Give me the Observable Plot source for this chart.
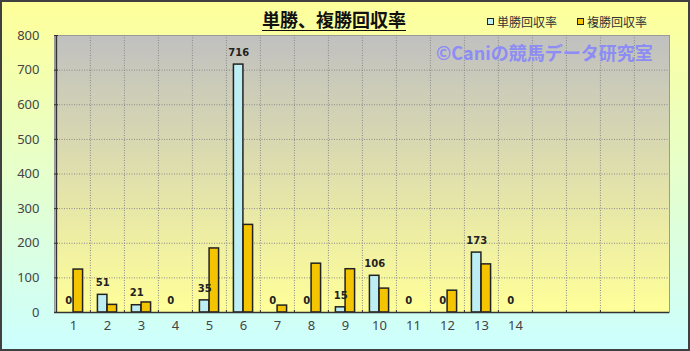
<!DOCTYPE html>
<html>
<head>
<meta charset="utf-8">
<script src="https://cdn.jsdelivr.net/npm/d3@7"></script>
<script src="https://cdn.jsdelivr.net/npm/@observablehq/plot@0.6"></script>
<style>
  html, body { margin: 0; padding: 0; background: #fff; }
  #wrap { position: relative; width: 690px; height: 351px; overflow: hidden;
          background: linear-gradient(to bottom, #ffff99 0%, #ccffff 100%);
          font-family: "Noto Sans CJK JP", "Noto Sans", sans-serif; }
  #wrap svg { position: absolute; left: 0; top: 0; }
  .title { position: absolute; left: 262px; top: 6px; font-size: 18px; font-weight: bold;
           color: #111; text-decoration: underline; text-underline-offset: 3px; white-space: nowrap; letter-spacing: 0; }
  .legend { position: absolute; top: 13px; font-size: 12px; color: #333; white-space: nowrap; display: flex; align-items: center; }
  .legend .sw { display: inline-block; width: 5px; height: 5px; border: 1.5px solid #222; margin-right: 3px; }
  .wm { position: absolute; left: 436px; top: 39px; font-size: 18px; color: #8c8cf5; white-space: nowrap; font-weight: bold; }
  .border { position: absolute; left: 0; top: 0; width: 690px; height: 351px; box-sizing: border-box;
            border: 2px solid #404040; pointer-events: none; }
</style>
</head>
<body>
<div id="wrap"></div>
<script>
// ---- data ----
const categories = ["1","2","3","4","5","6","7","8","9","10","11","12","13","14"];
const emptySlots = ["15","16","17","18"];
const tanshoValues = [0, 51, 21, 0, 35, 716, 0, 0, 15, 106, 0, 0, 173, 0];
const fukushoValues = [124, 22, 29, 0, 185, 253, 20, 141, 125, 69, 0, 63, 139, 0];
const seriesNames = ["単勝回収率", "複勝回収率"];
const seriesColors = ["#bdeef4", "#f4c400"];
const yTicks = [0, 100, 200, 300, 400, 500, 600, 700, 800];
const titleText = "単勝、複勝回収率";
const watermarkText = "©Caniの競馬データ研究室";

const tansho = categories.map((c, i) => ({cat: c, value: tanshoValues[i]}));
const fukusho = categories.map((c, i) => ({cat: c, value: fukushoValues[i]}));
const domain = categories.concat(emptySlots);

const W = 690, H = 351;
const mL = 54, mR = 21, mT = 35, mB = 39;
const band = (W - mL - mR) / domain.length;
const barW = band * 0.283;

const svg = Plot.plot({
  width: W, height: H,
  marginLeft: mL, marginRight: mR, marginTop: mT, marginBottom: mB,
  style: {background: "transparent", fontFamily: "'Noto Sans', sans-serif"},
  x: {type: "band", domain, padding: 0, label: null},
  y: {domain: [0, 800], label: null},
  marks: [
    Plot.frame({fill: "url(#plotbg)", stroke: "#9a9a9a"}),
    Plot.ruleY(yTicks.filter(d => d > 0 && d < 800), {stroke: "#8a8a8a", strokeDasharray: "1,1.5", strokeWidth: 1}),
    Plot.ruleX(domain.slice(1), {x: d => d, dx: -band / 2, stroke: "#8a8a8a", strokeDasharray: "1,1.5", strokeWidth: 1}),
    Plot.ruleX(domain.slice(1).concat(["18"]), {x: d => d, dx: -band / 2, y1: 0, y2: 6, stroke: "#333", strokeWidth: 1}),
    Plot.barY(tansho.filter(d => d.value > 0), {x: "cat", y: "value", fill: seriesColors[0], stroke: "#222", strokeWidth: 1.5,
      insetLeft: band / 2 - barW, insetRight: band / 2}),
    Plot.barY(fukusho.filter(d => d.value > 0), {x: "cat", y: "value", fill: seriesColors[1], stroke: "#222", strokeWidth: 1.5,
      insetLeft: band / 2, insetRight: band / 2 - barW}),
    Plot.text(tansho, {x: "cat", y: "value", text: d => String(d.value), dx: -barW / 2, dy: -12,
      fontSize: 10, fontWeight: "bold", fill: "#222", fontFamily: "'DejaVu Sans', sans-serif"}),
    Plot.ruleY([0], {stroke: "#333", strokeWidth: 1.5}),
    Plot.ruleX([domain[0]], {dx: -band / 2, stroke: "#333", strokeWidth: 1.5}),
    Plot.axisY({ticks: yTicks, tickSize: -4, tickPadding: 19, fontSize: 13, color: "#444", stroke: "#333"}),
    Plot.axisX({tickSize: 0, tickPadding: 8, fontSize: 13, color: "#444",
      tickFormat: d => emptySlots.includes(d) ? "" : d})
  ]
});

const s = d3.select(svg);
const defs = s.insert("defs", ":first-child");
const g = defs.append("linearGradient").attr("id", "plotbg").attr("x1", 0).attr("y1", 0).attr("x2", 0).attr("y2", 1);
g.append("stop").attr("offset", "0%").attr("stop-color", "#c0c0c0");
g.append("stop").attr("offset", "100%").attr("stop-color", "#ffff99");

const wrap = document.getElementById("wrap");
wrap.appendChild(svg);

const t = document.createElement("div");
t.className = "title"; t.textContent = titleText; wrap.appendChild(t);

const legendX = [487, 577];
seriesNames.forEach((n, i) => {
  const l = document.createElement("div");
  l.className = "legend";
  l.style.left = legendX[i] + "px";
  l.innerHTML = `<span class="sw" style="background:${seriesColors[i]}"></span>${n}`;
  wrap.appendChild(l);
});

const wm = document.createElement("div");
wm.className = "wm"; wm.textContent = watermarkText; wrap.appendChild(wm);

const b = document.createElement("div"); b.className = "border"; wrap.appendChild(b);
</script>
</body>
</html>
